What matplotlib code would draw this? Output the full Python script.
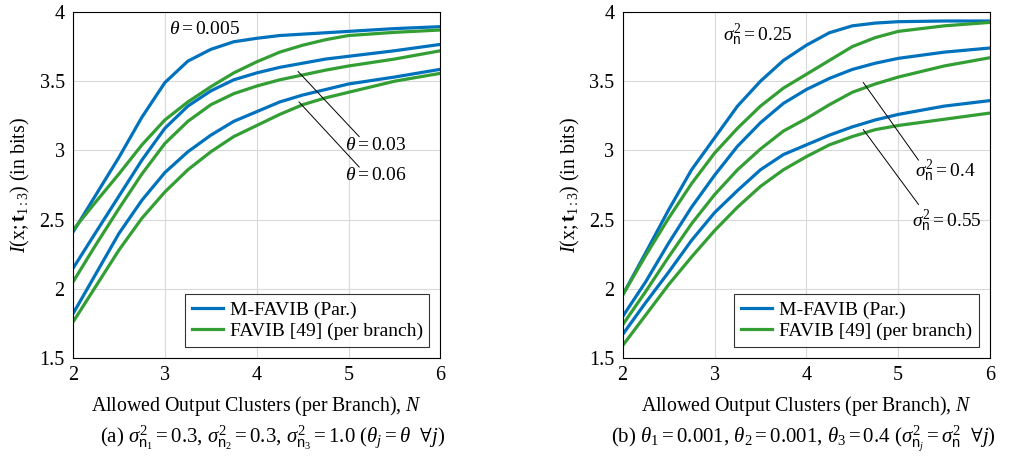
import numpy as np
import matplotlib
matplotlib.use("Agg")
import matplotlib.pyplot as plt

plt.rcParams['font.family'] = ['Liberation Serif', 'DejaVu Serif']
plt.rcParams['mathtext.fontset'] = 'custom'
plt.rcParams['mathtext.rm'] = 'Liberation Serif'
plt.rcParams['mathtext.it'] = 'Liberation Serif:italic'
plt.rcParams['mathtext.bf'] = 'Liberation Serif:bold'
plt.rcParams['mathtext.sf'] = 'Liberation Sans'
plt.rcParams['mathtext.fallback'] = 'stix'

N = [2, 2.25, 2.5, 2.75, 3, 3.25, 3.5, 3.75, 4, 4.25, 4.5, 4.75, 5, 5.5, 6]

# (a) theta sweep
a_mfavib = {
    '0.005': [2.41, 2.68, 2.95, 3.24, 3.49, 3.645, 3.73, 3.785, 3.81, 3.83, 3.84, 3.85, 3.86, 3.88, 3.894],
    '0.03':  [2.148, 2.41, 2.67, 2.93, 3.16, 3.32, 3.43, 3.51, 3.56, 3.60, 3.63, 3.66, 3.68, 3.72, 3.766],
    '0.06':  [1.82, 2.11, 2.40, 2.64, 2.84, 2.99, 3.11, 3.21, 3.28, 3.35, 3.40, 3.44, 3.48, 3.53, 3.586],
}
a_favib = {
    '0.005': [2.425, 2.63, 2.83, 3.04, 3.22, 3.35, 3.46, 3.56, 3.64, 3.71, 3.76, 3.80, 3.83, 3.853, 3.87],
    '0.03':  [2.05, 2.32, 2.58, 2.83, 3.05, 3.21, 3.33, 3.41, 3.465, 3.51, 3.545, 3.58, 3.61, 3.66, 3.72],
    '0.06':  [1.76, 2.02, 2.28, 2.51, 2.70, 2.86, 2.99, 3.10, 3.18, 3.26, 3.33, 3.38, 3.42, 3.50, 3.557],
}

# (b) noise variance sweep
b_mfavib = {
    '0.25': [1.955, 2.26, 2.57, 2.86, 3.09, 3.32, 3.50, 3.65, 3.76, 3.85, 3.90, 3.92, 3.93, 3.935, 3.935],
    '0.4':  [1.80, 2.05, 2.33, 2.59, 2.82, 3.03, 3.20, 3.34, 3.44, 3.52, 3.585, 3.63, 3.665, 3.71, 3.74],
    '0.55': [1.67, 1.90, 2.12, 2.35, 2.55, 2.71, 2.86, 2.97, 3.04, 3.11, 3.17, 3.22, 3.26, 3.32, 3.36],
}
b_favib = {
    '0.25': [1.955, 2.24, 2.51, 2.76, 2.98, 3.16, 3.32, 3.45, 3.55, 3.65, 3.75, 3.815, 3.86, 3.90, 3.925],
    '0.4':  [1.74, 1.98, 2.23, 2.47, 2.68, 2.86, 3.01, 3.14, 3.23, 3.33, 3.42, 3.48, 3.53, 3.61, 3.67],
    '0.55': [1.59, 1.81, 2.03, 2.23, 2.42, 2.59, 2.74, 2.86, 2.955, 3.04, 3.10, 3.15, 3.18, 3.225, 3.27],
}

blue = '#0072bd'
green = '#339e33'

fig = plt.figure(figsize=(10.10, 4.58), dpi=100)
ax1 = fig.add_axes([0.0723, 0.2183, 0.3638, 0.7555])
ax2 = fig.add_axes([0.6165, 0.2183, 0.3638, 0.7555])


def draw(ax, mf, fv):
    for k in mf:
        ax.plot(N, mf[k], color=blue, lw=2.3, solid_capstyle='butt', solid_joinstyle='round')
        ax.plot(N, fv[k], color=green, lw=2.3, solid_capstyle='butt', solid_joinstyle='round')
    ax.plot([], [], color=blue, lw=2.3, label='M-FAVIB (Par.)')
    ax.plot([], [], color=green, lw=2.3, label='FAVIB [49] (per branch)')
    ax.set_xlim(2, 6)
    ax.set_ylim(1.5, 4)
    ax.set_xticks([2, 3, 4, 5, 6])
    ax.set_yticks([1.5, 2, 2.5, 3, 3.5, 4])
    ax.set_xticklabels(['2', '3', '4', '5', '6'])
    ax.set_yticklabels(['1.5', '2', '2.5', '3', '3.5', '4'])
    ax.grid(True, color='#d9d9d9', lw=0.8)
    ax.set_axisbelow(True)
    ax.tick_params(labelsize=14.5, length=0, pad=6)
    for s in ax.spines.values():
        s.set_linewidth(0.8)
    ax.set_xlabel(r'Allowed Output Clusters (per Branch), $N$', fontsize=14.3, labelpad=6)
    ax.set_ylabel(r'$I(\mathrm{x};\mathbf{t}_{1:3})$ (in bits)', fontsize=14.3, labelpad=5)
    leg = ax.legend(loc='lower right', fontsize=14, frameon=True, fancybox=False,
                    edgecolor='black', handlelength=1.6, borderpad=0.35,
                    labelspacing=0.2, handletextpad=0.35, borderaxespad=0,
                    bbox_to_anchor=(0.97, 0.032))
    leg.get_frame().set_linewidth(0.8)


draw(ax1, a_mfavib, a_favib)
draw(ax2, b_mfavib, b_favib)

# annotations (a)
ax1.text(3.05, 3.87, r'$\theta = 0.005$', fontsize=14, va='center')
ax1.plot([4.45, 5.115], [3.57, 3.10], color='black', lw=0.7)
ax1.plot([4.46, 5.115], [3.35, 2.88], color='black', lw=0.7)
ax1.text(4.96, 3.035, r'$\theta = 0.03$', fontsize=14, va='center')
ax1.text(4.96, 2.82, r'$\theta = 0.06$', fontsize=14, va='center')

# annotations (b)
ax2.text(3.09, 3.83, r'$\sigma^2_{\mathsf{n}} = 0.25$', fontsize=14, va='center')
ax2.plot([4.62, 5.22], [3.49, 2.93], color='black', lw=0.7)
ax2.plot([4.62, 5.22], [3.15, 2.61], color='black', lw=0.7)
ax2.text(5.18, 2.85, r'$\sigma^2_{\mathsf{n}} = 0.4$', fontsize=14, va='center')
ax2.text(5.15, 2.49, r'$\sigma^2_{\mathsf{n}} = 0.55$', fontsize=14, va='center')

fig.text(0.270, 0.044,
         r'(a) $\sigma^2_{\mathsf{n}_1} = 0.3$, $\sigma^2_{\mathsf{n}_2} = 0.3$, '
         r'$\sigma^2_{\mathsf{n}_3} = 1.0$ ($\theta_j = \theta\ \ \forall j$)',
         ha='center', va='center', fontsize=15)
fig.text(0.7955, 0.044,
         r'(b) $\theta_1 = 0.001$, $\theta_2 = 0.001$, $\theta_3 = 0.4$ '
         r'($\sigma^2_{\mathsf{n}_j} = \sigma^2_{\mathsf{n}}\ \ \forall j$)',
         ha='center', va='center', fontsize=15)

fig.savefig('out.png', dpi=100)
